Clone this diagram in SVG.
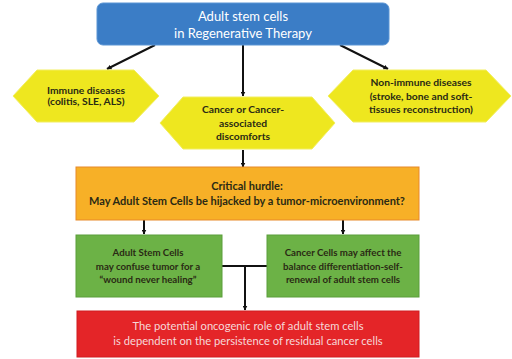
<svg xmlns="http://www.w3.org/2000/svg" width="512" height="359" viewBox="0 0 512 359">
<defs>
<marker id="ah" viewBox="0 0 10 10" refX="9" refY="5" markerWidth="5" markerHeight="5" orient="auto" markerUnits="userSpaceOnUse">
<path d="M0,0 L10,5 L0,10 z" fill="#111"/>
</marker>
<style>
.t{font-family:Lato,"Open Sans","Liberation Sans",sans-serif;text-anchor:middle}
.dk{fill:#2a2a14;font-weight:bold}
.hx{fill:#eee71f;stroke:#f2ee60;stroke-width:1}
.ln{stroke:#111;stroke-width:2;fill:none}
</style>
</defs>
<rect width="512" height="359" fill="#ffffff"/>
<g id="connectors">
<line class="ln" x1="155" y1="45" x2="107" y2="69" marker-end="url(#ah)"/>
<line class="ln" x1="243" y1="45" x2="243" y2="96" marker-end="url(#ah)"/>
<line class="ln" x1="340" y1="45" x2="388" y2="69" marker-end="url(#ah)"/>
<line class="ln" x1="243" y1="150" x2="243" y2="167" marker-end="url(#ah)"/>
<line class="ln" x1="144" y1="220" x2="144" y2="234" marker-end="url(#ah)"/>
<line class="ln" x1="343" y1="220" x2="343" y2="234" marker-end="url(#ah)"/>
<line class="ln" x1="222" y1="266" x2="267" y2="266"/>
<line class="ln" x1="245" y1="266" x2="245" y2="310" marker-end="url(#ah)"/>
</g>
<g id="root">
<rect x="97" y="3" width="292" height="42" rx="6" fill="#3b7dc6" stroke="#5b95d4" stroke-width="1"/>
<text class="t" x="243" y="21" font-size="13" fill="#ffffff">Adult stem cells</text>
<text class="t" x="243" y="38" font-size="13" fill="#ffffff">in Regenerative Therapy</text>
</g>
<g id="immune">
<polygon class="hx" points="13,96 37,70 134,70 159,96 134,122 37,122"/>
<text class="t dk" x="86" y="94" font-size="10.3">Immune diseases</text>
<text class="t dk" x="86" y="105" font-size="10.3">(colitis, SLE, ALS)</text>
</g>
<g id="cancer">
<polygon class="hx" points="160,123 183,97 312,97 335,123 312,149 183,149"/>
<text class="t dk" x="243" y="113" font-size="10.3">Cancer or Cancer-</text>
<text class="t dk" x="243" y="127" font-size="10.3">associated</text>
<text class="t dk" x="243" y="140" font-size="10.3">discomforts</text>
</g>
<g id="nonimmune">
<polygon class="hx" points="328,96 353,70 486,70 511,96 486,122 353,122"/>
<text class="t dk" x="421" y="86" font-size="10.3">Non-immune diseases</text>
<text class="t dk" x="421" y="100" font-size="10.3">(stroke, bone and soft-</text>
<text class="t dk" x="421" y="113" font-size="10.3">tissues reconstruction)</text>
</g>
<g id="hurdle">
<rect x="76" y="167" width="343" height="53" fill="#f7b027" stroke="#e8892a" stroke-width="1"/>
<text class="t dk" x="247" y="190" font-size="11">Critical hurdle:</text>
<text class="t dk" x="247" y="205" font-size="11">May Adult Stem Cells be hijacked by a tumor-microenvironment?</text>
</g>
<g id="confuse">
<rect x="76" y="235" width="146" height="62" fill="#6cb246" stroke="#5a9e3a" stroke-width="1"/>
<text class="t dk" x="148" y="256" font-size="9.7">Adult Stem Cells</text>
<text class="t dk" x="148" y="270" font-size="9.7">may confuse tumor for a</text>
<text class="t dk" x="148" y="283" font-size="9.7">“wound never healing”</text>
</g>
<g id="balance">
<rect x="267" y="235" width="152" height="62" fill="#6cb246" stroke="#5a9e3a" stroke-width="1"/>
<text class="t dk" x="343" y="256" font-size="9.7">Cancer Cells may affect the</text>
<text class="t dk" x="343" y="270" font-size="9.7">balance differentiation-self-</text>
<text class="t dk" x="343" y="283" font-size="9.7">renewal of adult stem cells</text>
</g>
<g id="oncogenic">
<rect x="77" y="311" width="342" height="46" fill="#e42528" stroke="#d01c20" stroke-width="1"/>
<text class="t" x="248" y="330" font-size="11.2" fill="#f6d8d8">The potential oncogenic role of adult stem cells</text>
<text class="t" x="248" y="345" font-size="11.2" fill="#f6d8d8">is dependent on the persistence of residual cancer cells</text>
</g>
</svg>
